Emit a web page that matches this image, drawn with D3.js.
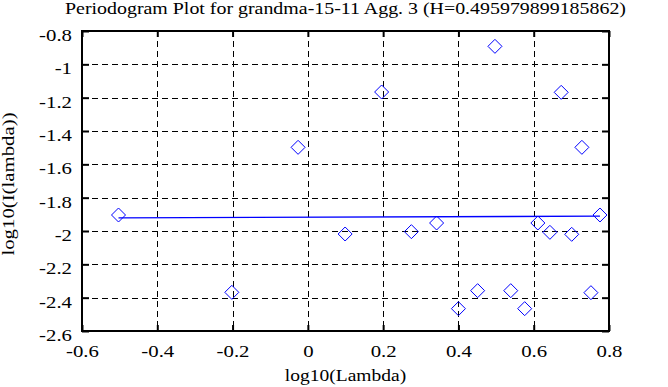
<!DOCTYPE html>
<html>
<head>
<meta charset="utf-8">
<script src="https://cdn.jsdelivr.net/npm/d3@7"></script>
<style>
  html, body { margin: 0; padding: 0; background: #fff; }
  svg { display: block; }
  text { font-family: "Liberation Serif", "Times New Roman", serif; fill: #000; }
</style>
</head>
<body>
<svg id="chart" width="668" height="387"></svg>
<script>
// ---- data ----
const logLambda = [-0.503, -0.202, -0.026, 0.099, 0.196, 0.275, 0.342, 0.400, 0.451, 0.497,
                   0.539, 0.576, 0.611, 0.643, 0.673, 0.701, 0.728, 0.752, 0.776];
const logI = [-1.904, -2.368, -1.498, -2.018, -1.166, -2.004, -1.952, -2.466, -2.358, -0.892,
              -2.358, -2.466, -1.952, -2.008, -1.168, -2.020, -1.498, -2.370, -1.904];
const fitX = [-0.503, 0.776];
const fitY = [-1.921, -1.911];
const xTicks = [-0.6, -0.4, -0.2, 0, 0.2, 0.4, 0.6, 0.8];
const xTickLabels = ["-0.6", "-0.4", "-0.2", "0", "0.2", "0.4", "0.6", "0.8"];
const yTicks = [-0.8, -1, -1.2, -1.4, -1.6, -1.8, -2, -2.2, -2.4, -2.6];
const yTickLabels = ["-0.8", "-1", "-1.2", "-1.4", "-1.6", "-1.8", "-2", "-2.2", "-2.4", "-2.6"];
const title = "Periodogram Plot for grandma-15-11 Agg. 3 (H=0.495979899185862)";
const xLabel = "log10(Lambda)";
const yLabel = "log10(I(lambda))";

// ---- layout ----
const L = 82, R = 609, T = 31, B = 331;
const svg = d3.select("#chart");
const x = d3.scaleLinear().domain([-0.6, 0.8]).range([L, R]);
const y = d3.scaleLinear().domain([-2.6, -0.8]).range([B, T]);
const FS = 16;

// grid
const grid = svg.append("g").attr("stroke", "#000").attr("stroke-width", 1)
  .attr("stroke-dasharray", "6,4").attr("shape-rendering", "crispEdges");
grid.selectAll("line.v").data(xTicks.slice(1, -1)).join("line")
  .attr("x1", d => Math.round(x(d))).attr("x2", d => Math.round(x(d)))
  .attr("y1", T).attr("y2", B);
grid.selectAll("line.h").data(yTicks.slice(1, -1)).join("line")
  .attr("y1", d => Math.round(y(d)) + 0.5).attr("y2", d => Math.round(y(d)) + 0.5)
  .attr("x1", L).attr("x2", R);

// axes (ticks inward)
const lab = (labels, ticks) => (d => labels[ticks.indexOf(d)]);
const gx = svg.append("g").attr("transform", `translate(0,${B})`)
  .call(d3.axisBottom(x).tickValues(xTicks).tickSizeInner(-6).tickSizeOuter(0)
    .tickFormat(lab(xTickLabels, xTicks)));
gx.selectAll("text").attr("y", null).attr("dy", null)
  .attr("transform", "translate(0,26) scale(1.3,1)");
const gy = svg.append("g").attr("transform", `translate(${L},0)`)
  .call(d3.axisLeft(y).tickValues(yTicks).tickSizeInner(-7).tickSizeOuter(0)
    .tickFormat(lab(yTickLabels, yTicks)));
gy.selectAll("text").attr("x", null).attr("dy", null)
  .attr("transform", "translate(-10,9.5) scale(1.3,1)");
const gt = svg.append("g").attr("transform", `translate(0,${T})`)
  .call(d3.axisTop(x).tickValues(xTicks).tickSizeInner(-6).tickSizeOuter(0).tickFormat(""));
const gr = svg.append("g").attr("transform", `translate(${R},0)`)
  .call(d3.axisRight(y).tickValues(yTicks).tickSizeInner(-7).tickSizeOuter(0).tickFormat(""));
[gx, gy, gt, gr].forEach(g => {
  g.select(".domain").remove();
  g.selectAll(".tick line").attr("stroke", "#000").attr("stroke-width", 2);
  g.selectAll("text").attr("font-size", FS).attr("font-family", null).attr("fill", "#000");
});

// frame
svg.append("rect").attr("x", L).attr("y", T).attr("width", R - L).attr("height", B - T)
  .attr("fill", "none").attr("stroke", "#000").attr("stroke-width", 2);

// fit line
svg.append("path")
  .datum(fitX.map((d, i) => [d, fitY[i]]))
  .attr("d", d3.line().x(d => x(d[0])).y(d => y(d[1])))
  .attr("fill", "none").attr("stroke", "#0000ff").attr("stroke-width", 1.3);

// diamonds
const s = 7;
svg.append("g").selectAll("path").data(logLambda.map((d, i) => [d, logI[i]])).join("path")
  .attr("transform", d => `translate(${x(d[0])},${y(d[1])})`)
  .attr("d", `M0,${-s}L${s},0L0,${s}L${-s},0Z`)
  .attr("fill", "none").attr("stroke", "#0000ff").attr("stroke-width", 1);

// labels
svg.append("text").attr("text-anchor", "middle").attr("font-size", FS)
  .attr("transform", `translate(${(L + R) / 2},14) scale(1.245,1)`).text(title);
svg.append("text").attr("text-anchor", "middle").attr("font-size", FS)
  .attr("transform", `translate(${(L + R) / 2},381) scale(1.22,1)`).text(xLabel);
svg.append("text").attr("text-anchor", "middle").attr("font-size", FS)
  .attr("transform", `translate(14,184) rotate(-90) scale(1.3,1)`).text(yLabel);
</script>
</body>
</html>
